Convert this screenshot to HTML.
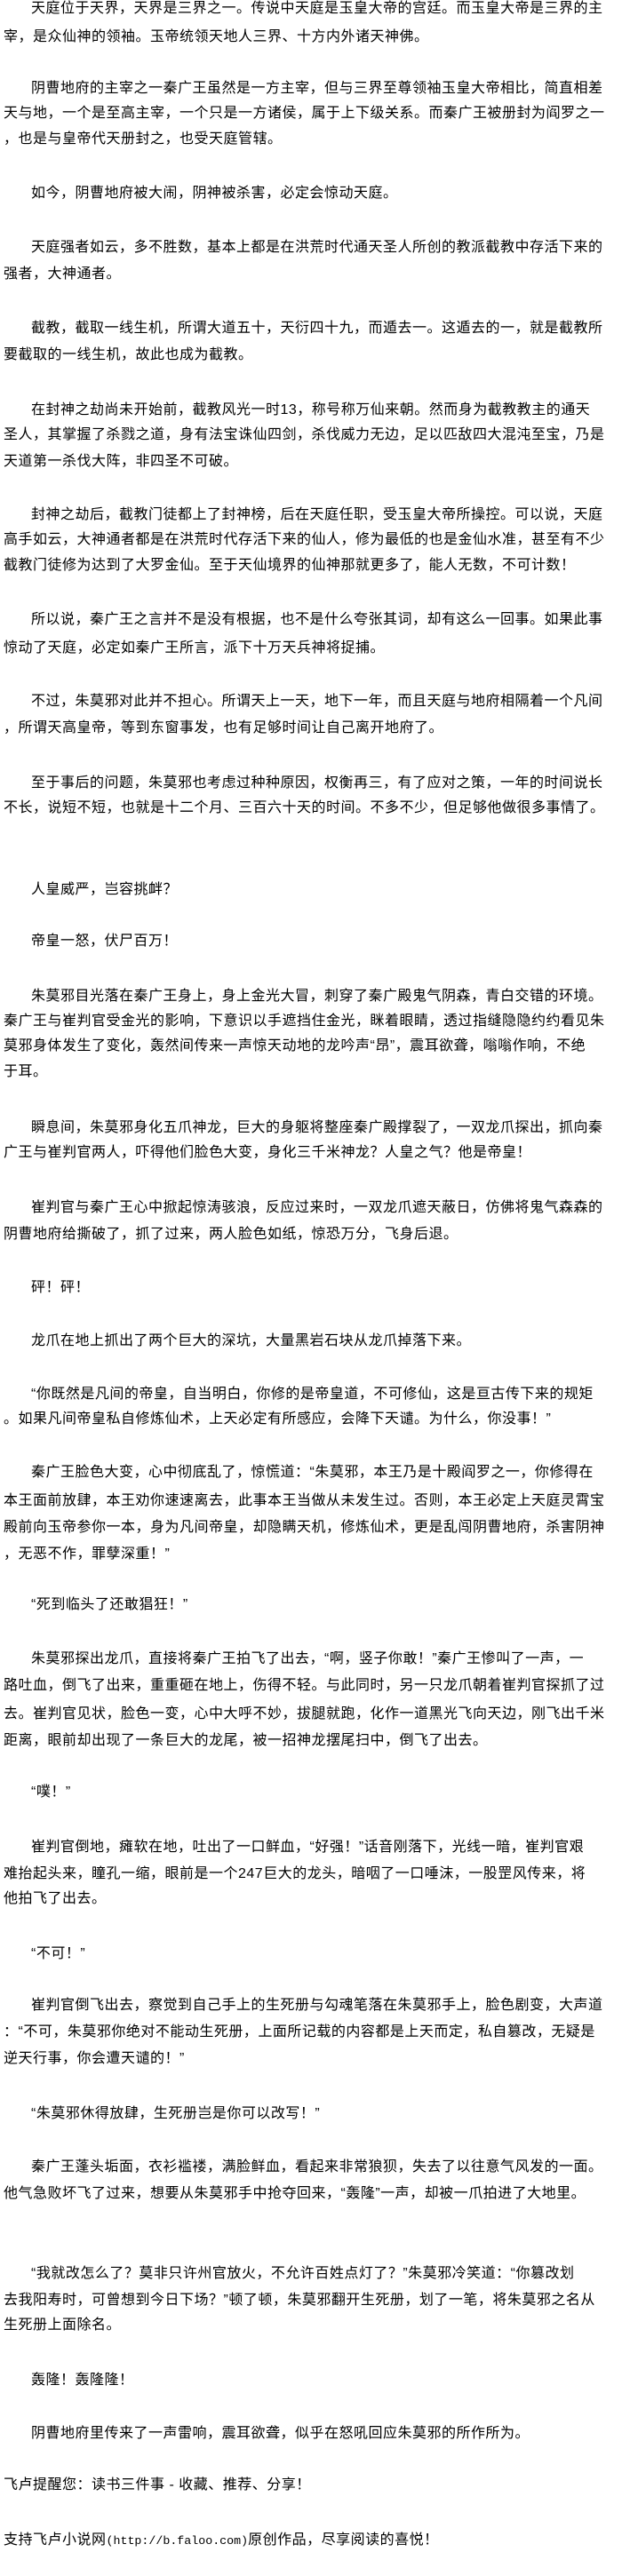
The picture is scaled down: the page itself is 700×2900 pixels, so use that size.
<!DOCTYPE html>
<html><head><meta charset="utf-8">
<style>
html,body{margin:0;padding:0;background:#fff;}
body{width:700px;height:2900px;position:relative;overflow:hidden;font-family:"Liberation Sans","Noto Sans CJK SC","WenQuanYi Zen Hei",sans-serif;font-size:16px;color:#000;}
div{position:absolute;white-space:nowrap;line-height:16px;letter-spacing:0.5px;}
.i{left:35px}.n{left:4px}
.m{font-family:"Liberation Mono",monospace;font-size:13.3px;letter-spacing:0}
</style></head><body>
<div class="i" style="top:2px">天庭位于天界，天界是三界之一。传说中天庭是玉皇大帝的宫廷。而玉皇大帝是三界的主</div>
<div class="n" style="top:34px">宰，是众仙神的领袖。玉帝统领天地人三界、十方内外诸天神佛。</div>
<div class="i" style="top:92px">阴曹地府的主宰之一秦广王虽然是一方主宰，但与三界至尊领袖玉皇大帝相比，简直相差</div>
<div class="n" style="top:120px">天与地，一个是至高主宰，一个只是一方诸侯，属于上下级关系。而秦广王被册封为阎罗之一</div>
<div class="n" style="top:149px">，也是与皇帝代天册封之，也受天庭管辖。</div>
<div class="i" style="top:210px">如今，阴曹地府被大闹，阴神被杀害，必定会惊动天庭。</div>
<div class="i" style="top:271px">天庭强者如云，多不胜数，基本上都是在洪荒时代通天圣人所创的教派截教中存活下来的</div>
<div class="n" style="top:301px">强者，大神通者。</div>
<div class="i" style="top:362px">截教，截取一线生机，所谓大道五十，天衍四十九，而遁去一。这遁去的一，就是截教所</div>
<div class="n" style="top:392px">要截取的一线生机，故此也成为截教。</div>
<div class="i" style="top:454px">在封神之劫尚未开始前，截教风光一时13，称号称万仙来朝。然而身为截教教主的通天</div>
<div class="n" style="top:482px">圣人，其掌握了杀戮之道，身有法宝诛仙四剑，杀伐威力无边，足以匹敌四大混沌至宝，乃是</div>
<div class="n" style="top:512px">天道第一杀伐大阵，非四圣不可破。</div>
<div class="i" style="top:572px">封神之劫后，截教门徒都上了封神榜，后在天庭任职，受玉皇大帝所操控。可以说，天庭</div>
<div class="n" style="top:600px">高手如云，大神通者都是在洪荒时代存活下来的仙人，修为最低的也是金仙水准，甚至有不少</div>
<div class="n" style="top:629px">截教门徒修为达到了大罗金仙。至于天仙境界的仙神那就更多了，能人无数，不可计数！</div>
<div class="i" style="top:690px">所以说，秦广王之言并不是没有根据，也不是什么夸张其词，却有这么一回事。如果此事</div>
<div class="n" style="top:722px">惊动了天庭，必定如秦广王所言，派下十万天兵神将捉捕。</div>
<div class="i" style="top:782px">不过，朱莫邪对此并不担心。所谓天上一天，地下一年，而且天庭与地府相隔着一个凡间</div>
<div class="n" style="top:812px">，所谓天高皇帝，等到东窗事发，也有足够时间让自己离开地府了。</div>
<div class="i" style="top:874px">至于事后的问题，朱莫邪也考虑过种种原因，权衡再三，有了应对之策，一年的时间说长</div>
<div class="n" style="top:902px">不长，说短不短，也就是十二个月、三百六十天的时间。不多不少，但足够他做很多事情了。</div>
<div class="i" style="top:994px">人皇威严，岂容挑衅？</div>
<div class="i" style="top:1052px">帝皇一怒，伏尸百万！</div>
<div class="i" style="top:1114px">朱莫邪目光落在秦广王身上，身上金光大冒，刺穿了秦广殿鬼气阴森，青白交错的环境。</div>
<div class="n" style="top:1142px">秦广王与崔判官受金光的影响，下意识以手遮挡住金光，眯着眼睛，透过指缝隐隐约约看见朱</div>
<div class="n" style="top:1170px">莫邪身体发生了变化，轰然间传来一声惊天动地的龙吟声“昂”，震耳欲聋，嗡嗡作响，不绝</div>
<div class="n" style="top:1199px">于耳。</div>
<div class="i" style="top:1262px">瞬息间，朱莫邪身化五爪神龙，巨大的身躯将整座秦广殿撑裂了，一双龙爪探出，抓向秦</div>
<div class="n" style="top:1290px">广王与崔判官两人，吓得他们脸色大变，身化三千米神龙？人皇之气？他是帝皇！</div>
<div class="i" style="top:1352px">崔判官与秦广王心中掀起惊涛骇浪，反应过来时，一双龙爪遮天蔽日，仿佛将鬼气森森的</div>
<div class="n" style="top:1382px">阴曹地府给撕破了，抓了过来，两人脸色如纸，惊恐万分，飞身后退。</div>
<div class="i" style="top:1442px">砰！砰！</div>
<div class="i" style="top:1502px">龙爪在地上抓出了两个巨大的深坑，大量黑岩石块从龙爪掉落下来。</div>
<div class="i" style="top:1562px">“你既然是凡间的帝皇，自当明白，你修的是帝皇道，不可修仙，这是亘古传下来的规矩</div>
<div class="n" style="top:1590px">。如果凡间帝皇私自修炼仙术，上天必定有所感应，会降下天谴。为什么，你没事！”</div>
<div class="i" style="top:1650px">秦广王脸色大变，心中彻底乱了，惊慌道：“朱莫邪，本王乃是十殿阎罗之一，你修得在</div>
<div class="n" style="top:1682px">本王面前放肆，本王劝你速速离去，此事本王当做从未发生过。否则，本王必定上天庭灵霄宝</div>
<div class="n" style="top:1712px">殿前向玉帝参你一本，身为凡间帝皇，却隐瞒天机，修炼仙术，更是乱闯阴曹地府，杀害阴神</div>
<div class="n" style="top:1742px">，无恶不作，罪孽深重！”</div>
<div class="i" style="top:1799px">“死到临头了还敢猖狂！”</div>
<div class="i" style="top:1860px">朱莫邪探出龙爪，直接将秦广王拍飞了出去，“啊，竖子你敢！”秦广王惨叫了一声，一</div>
<div class="n" style="top:1890px">路吐血，倒飞了出来，重重砸在地上，伤得不轻。与此同时，另一只龙爪朝着崔判官探抓了过</div>
<div class="n" style="top:1922px">去。崔判官见状，脸色一变，心中大呼不妙，拔腿就跑，化作一道黑光飞向天边，刚飞出千米</div>
<div class="n" style="top:1952px">距离，眼前却出现了一条巨大的龙尾，被一招神龙摆尾扫中，倒飞了出去。</div>
<div class="i" style="top:2010px">“噗！”</div>
<div class="i" style="top:2072px">崔判官倒地，瘫软在地，吐出了一口鲜血，“好强！”话音刚落下，光线一暗，崔判官艰</div>
<div class="n" style="top:2102px">难抬起头来，瞳孔一缩，眼前是一个247巨大的龙头，暗咽了一口唾沫，一股罡风传来，将</div>
<div class="n" style="top:2130px">他拍飞了出去。</div>
<div class="i" style="top:2192px">“不可！”</div>
<div class="i" style="top:2250px">崔判官倒飞出去，察觉到自己手上的生死册与勾魂笔落在朱莫邪手上，脸色剧变，大声道</div>
<div class="n" style="top:2280px">：“不可，朱莫邪你绝对不能动生死册，上面所记载的内容都是上天而定，私自篡改，无疑是</div>
<div class="n" style="top:2310px">逆天行事，你会遭天谴的！”</div>
<div class="i" style="top:2372px">“朱莫邪休得放肆，生死册岂是你可以改写！”</div>
<div class="i" style="top:2432px">秦广王蓬头垢面，衣衫褴褛，满脸鲜血，看起来非常狼狈，失去了以往意气风发的一面。</div>
<div class="n" style="top:2462px">他气急败坏飞了过来，想要从朱莫邪手中抢夺回来，“轰隆”一声，却被一爪拍进了大地里。</div>
<div class="i" style="top:2552px">“我就改怎么了？莫非只许州官放火，不允许百姓点灯了？”朱莫邪冷笑道：“你篡改划</div>
<div class="n" style="top:2582px">去我阳寿时，可曾想到今日下场？”顿了顿，朱莫邪翻开生死册，划了一笔，将朱莫邪之名从</div>
<div class="n" style="top:2610px">生死册上面除名。</div>
<div class="i" style="top:2672px">轰隆！轰隆隆！</div>
<div class="i" style="top:2732px">阴曹地府里传来了一声雷响，震耳欲聋，似乎在怒吼回应朱莫邪的所作所为。</div>
<div class="n" style="top:2790px">飞卢提醒您：读书三件事 - 收藏、推荐、分享！</div>
<div class="n" style="top:2852px">支持飞卢小说网<span class="m">(http://b.faloo.com)</span>原创作品，尽享阅读的喜悦！</div>
</body></html>
